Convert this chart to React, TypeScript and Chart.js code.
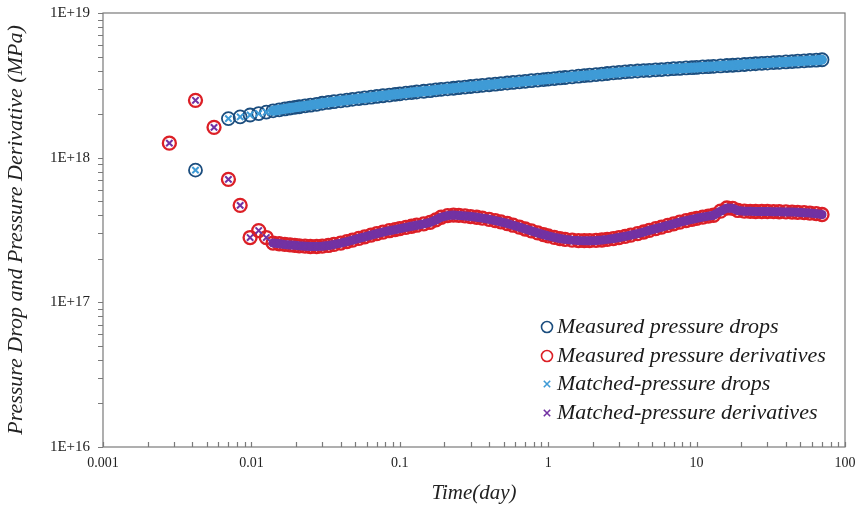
import React, { useEffect, useRef } from 'react';
import { Chart, registerables } from 'chart.js';
Chart.register(...registerables);

// ---- data (time in days, pressure in MPa) ----
const dropTimes = [0.0042, 0.0070, 0.0084, 0.0098, 0.0112, 0.0126, 0.0140, 0.0154, 0.0168, 0.0182, 0.0196, 0.021, 0.023, 0.025, 0.0275, 0.030, 0.033, 0.036, 0.040, 0.044, 0.048, 0.053, 0.058, 0.064, 0.070, 0.077, 0.085, 0.093, 0.10, 0.11, 0.12, 0.13, 0.145, 0.16, 0.175, 0.19, 0.21, 0.23, 0.25, 0.275, 0.30, 0.33, 0.36, 0.40, 0.44, 0.48, 0.53, 0.58, 0.64, 0.70, 0.77, 0.85, 0.93, 1.0, 1.1, 1.2, 1.3, 1.45, 1.6, 1.75, 1.9, 2.1, 2.3, 2.5, 2.75, 3.0, 3.3, 3.6, 4.0, 4.4, 4.8, 5.3, 5.8, 6.4, 7.0, 7.7, 8.5, 9.3, 10, 11, 12, 13, 14.5, 16, 17.5, 19, 21, 23, 25, 27.5, 30, 33, 36, 40, 44, 48, 53, 58, 64, 70];
// pressure drops, in units of 1E+18 MPa
const dropValuesE18 = [0.82, 1.862, 1.914, 1.972, 2.018, 2.065, 2.109, 2.143, 2.173, 2.203, 2.228, 2.249, 2.280, 2.307, 2.339, 2.377, 2.410, 2.438, 2.472, 2.500, 2.529, 2.559, 2.588, 2.618, 2.649, 2.679, 2.710, 2.742, 2.761, 2.793, 2.818, 2.844, 2.877, 2.904, 2.938, 2.965, 2.992, 3.020, 3.048, 3.076, 3.105, 3.133, 3.162, 3.192, 3.221, 3.251, 3.281, 3.311, 3.342, 3.373, 3.404, 3.436, 3.467, 3.491, 3.524, 3.556, 3.581, 3.622, 3.656, 3.690, 3.715, 3.750, 3.784, 3.819, 3.855, 3.882, 3.918, 3.945, 3.972, 3.999, 4.018, 4.046, 4.064, 4.093, 4.121, 4.140, 4.169, 4.188, 4.207, 4.236, 4.256, 4.276, 4.305, 4.335, 4.355, 4.375, 4.406, 4.436, 4.457, 4.487, 4.508, 4.539, 4.560, 4.592, 4.613, 4.645, 4.667, 4.699, 4.721, 4.753];

const derivTimes = [0.0028, 0.0042, 0.0056, 0.0070, 0.0084, 0.0098, 0.0112, 0.0126, 0.0140, 0.0154, 0.0168, 0.0182, 0.0196, 0.021, 0.023, 0.025, 0.0275, 0.030, 0.033, 0.036, 0.040, 0.044, 0.048, 0.053, 0.058, 0.064, 0.070, 0.077, 0.085, 0.093, 0.10, 0.11, 0.12, 0.13, 0.145, 0.16, 0.175, 0.19, 0.21, 0.23, 0.25, 0.275, 0.30, 0.33, 0.36, 0.40, 0.44, 0.48, 0.53, 0.58, 0.64, 0.70, 0.77, 0.85, 0.93, 1.0, 1.1, 1.2, 1.3, 1.45, 1.6, 1.75, 1.9, 2.1, 2.3, 2.5, 2.75, 3.0, 3.3, 3.6, 4.0, 4.4, 4.8, 5.3, 5.8, 6.4, 7.0, 7.7, 8.5, 9.3, 10, 11, 12, 13, 14.5, 16, 17.5, 19, 21, 23, 25, 27.5, 30, 33, 36, 40, 44, 48, 53, 58, 64, 70];
// pressure derivatives, in units of 1E+17 MPa
const derivValuesE17 = [12.6, 24.9, 16.2, 7.08, 4.68, 2.805, 3.133, 2.805, 2.570, 2.541, 2.512, 2.495, 2.477, 2.460, 2.443, 2.432, 2.432, 2.443, 2.472, 2.512, 2.570, 2.630, 2.692, 2.767, 2.838, 2.917, 2.985, 3.055, 3.126, 3.184, 3.236, 3.296, 3.357, 3.412, 3.491, 3.573, 3.715, 3.873, 3.981, 4.009, 3.990, 3.954, 3.917, 3.873, 3.819, 3.750, 3.673, 3.597, 3.508, 3.412, 3.311, 3.214, 3.119, 3.020, 2.938, 2.877, 2.812, 2.761, 2.723, 2.692, 2.673, 2.667, 2.667, 2.679, 2.698, 2.723, 2.761, 2.805, 2.858, 2.911, 2.985, 3.062, 3.141, 3.228, 3.311, 3.404, 3.491, 3.581, 3.673, 3.750, 3.811, 3.882, 3.945, 3.999, 4.266, 4.487, 4.467, 4.315, 4.266, 4.256, 4.246, 4.246, 4.246, 4.236, 4.227, 4.217, 4.207, 4.188, 4.169, 4.140, 4.102, 4.046];

// matched model reproduces the measured values
const matchedDropValuesE18 = dropValuesE18;
const matchedDerivValuesE17 = derivValuesE17;

const seriesLabels = [
  'Measured pressure drops',
  'Measured pressure derivatives',
  'Matched-pressure drops',
  'Matched-pressure derivatives',
];

const xMajors = [0.001, 0.01, 0.1, 1, 10, 100];
const xTickLabels = ['0.001', '0.01', '0.1', '1', '10', '100'];
const yMajors = [1e16, 1e17, 1e18, 1e19];
const yTickLabels = ['1E+16', '1E+17', '1E+18', '1E+19'];

const xTitle = 'Time(day)';
const yTitle = 'Pressure Drop and Pressure Derivative (MPa)';

// ---- styles ----
const C_DROP = '#1b4d7e';
const C_DERIV = '#dc1f26';
const C_MDROP = '#3f9bd6';
const C_MDERIV = '#7232a3';
const AXIS_C = '#7a7a7a';
const FONT = '"Liberation Serif", "Times New Roman", serif';

function logTicks(min: number, max: number) {
  const out: { value: number }[] = [];
  const k0 = Math.round(Math.log10(min));
  const k1 = Math.round(Math.log10(max));
  for (let k = k0; k < k1; k++) {
    for (let m = 1; m <= 9; m++) out.push({ value: m * Math.pow(10, k) });
  }
  out.push({ value: max });
  return out;
}

function labelFor(v: number, majors: number[], labels: string[]) {
  const i = majors.findIndex((m) => Math.abs(m - v) / m < 1e-6);
  return i >= 0 ? labels[i] : '';
}

const axesPlugin = {
  id: 'axesBox',
  beforeDatasetsDraw(chart: any) {
    const { ctx, chartArea: a, scales } = chart;
    ctx.save();
    ctx.strokeStyle = AXIS_C;
    ctx.lineWidth = 1.2;
    ctx.strokeRect(a.left, a.top, a.right - a.left, a.bottom - a.top);
    ctx.beginPath();
    scales.x.ticks.forEach((t: any) => {
      const px = Math.round(scales.x.getPixelForValue(t.value)) + 0.5;
      ctx.moveTo(px, a.bottom);
      ctx.lineTo(px, a.bottom - 5);
    });
    scales.y.ticks.forEach((t: any) => {
      const py = Math.round(scales.y.getPixelForValue(t.value)) + 0.5;
      ctx.moveTo(a.left, py);
      ctx.lineTo(a.left - 5, py);
    });
    ctx.stroke();
    ctx.restore();
  },
};

const legendPlugin = {
  id: 'insideLegend',
  afterDraw(chart: any) {
    const { ctx } = chart;
    const mx = 547;
    const tx = 557;
    const rows = [327, 356, 384, 413];
    const kinds = [
      { type: 'circle', color: C_DROP },
      { type: 'circle', color: C_DERIV },
      { type: 'cross', color: C_MDROP },
      { type: 'cross', color: C_MDERIV },
    ];
    ctx.save();
    kinds.forEach((k, i) => {
      const y = rows[i];
      ctx.strokeStyle = k.color;
      ctx.lineWidth = 1.6;
      ctx.beginPath();
      if (k.type === 'circle') {
        ctx.arc(mx, y, 5.5, 0, Math.PI * 2);
      } else {
        const s = 3.2;
        ctx.moveTo(mx - s, y - s);
        ctx.lineTo(mx + s, y + s);
        ctx.moveTo(mx + s, y - s);
        ctx.lineTo(mx - s, y + s);
      }
      ctx.stroke();
      ctx.fillStyle = '#1a1a1a';
      ctx.font = `italic 22px ${FONT}`;
      ctx.textBaseline = 'middle';
      ctx.textAlign = 'left';
      ctx.fillText(seriesLabels[i], tx, y);
    });
    ctx.restore();
  },
};

export default function App() {
  const ref = useRef<HTMLCanvasElement | null>(null);

  useEffect(() => {
    if (!ref.current) return;
    const dropPts = dropTimes.map((t, i) => ({ x: t, y: dropValuesE18[i] * 1e18 }));
    const derivPts = derivTimes.map((t, i) => ({ x: t, y: derivValuesE17[i] * 1e17 }));
    const mDropPts = dropTimes.map((t, i) => ({ x: t, y: matchedDropValuesE18[i] * 1e18 }));
    const mDerivPts = derivTimes.map((t, i) => ({ x: t, y: matchedDerivValuesE17[i] * 1e17 }));
    const lineStart = 0.0135;

    const circleDs = (label: string, data: any[], color: string, bw: number) => ({
      label,
      data,
      showLine: false,
      pointStyle: 'circle',
      pointRadius: 6.5,
      pointBorderWidth: bw,
      pointBorderColor: color,
      pointBackgroundColor: 'rgba(0,0,0,0)',
      borderColor: color,
      backgroundColor: 'rgba(0,0,0,0)',
      order: 2,
    });
    const matchDs = (label: string, data: any[], color: string, lw: number) => ({
      label,
      data,
      showLine: true,
      borderColor: color,
      borderWidth: lw,
      borderCapStyle: 'round',
      borderJoinStyle: 'round',
      segment: {
        borderColor: (c: any) => (c.p0.parsed.x >= lineStart ? color : 'rgba(0,0,0,0)'),
      },
      pointStyle: 'crossRot',
      pointRadius: 4.5,
      pointBorderWidth: 2,
      pointBorderColor: color,
      pointBackgroundColor: color,
      backgroundColor: color,
      order: 1,
    });

    const chart = new Chart(ref.current, {
      type: 'scatter',
      data: {
        datasets: [
          circleDs(seriesLabels[0], dropPts, C_DROP, 1.8),
          circleDs(seriesLabels[1], derivPts, C_DERIV, 2.3),
          matchDs(seriesLabels[2], mDropPts, C_MDROP, 10),
          matchDs(seriesLabels[3], mDerivPts, C_MDERIV, 9),
        ] as any,
      },
      options: {
        animation: false,
        responsive: true,
        maintainAspectRatio: false,
        layout: { padding: { left: 0, right: 15, top: 13, bottom: 0 } },
        plugins: { legend: { display: false }, tooltip: { enabled: false } },
        scales: {
          x: {
            type: 'logarithmic',
            position: 'bottom',
            min: 0.001,
            max: 100,
            afterBuildTicks: (s: any) => { s.ticks = logTicks(0.001, 100); },
            afterFit: (s: any) => { s.height = 62; s.paddingLeft = 0; s.paddingRight = 0; },
            grid: { display: false, drawTicks: false },
            border: { display: false },
            ticks: {
              autoSkip: false,
              maxRotation: 0,
              padding: 8,
              color: '#222',
              font: { family: FONT, size: 14 },
              callback: (v: any) => labelFor(Number(v), xMajors, xTickLabels),
            },
            title: {
              display: true,
              text: xTitle,
              color: '#222',
              font: { family: FONT, size: 21, style: 'italic' },
              padding: { top: 0, bottom: 3 },
            },
          },
          y: {
            type: 'logarithmic',
            min: 1e16,
            max: 1e19,
            afterBuildTicks: (s: any) => { s.ticks = logTicks(1e16, 1e19); },
            afterFit: (s: any) => { s.width = 103; s.paddingTop = 0; s.paddingBottom = 0; },
            grid: { display: false, drawTicks: false },
            border: { display: false },
            ticks: {
              autoSkip: false,
              padding: 13,
              color: '#222',
              font: { family: FONT, size: 15 },
              callback: (v: any) => labelFor(Number(v), yMajors, yTickLabels),
            },
            title: {
              display: true,
              text: yTitle,
              color: '#222',
              font: { family: FONT, size: 22, style: 'italic' },
              padding: { top: 3, bottom: 0 },
            },
          },
        },
      } as any,
      plugins: [axesPlugin, legendPlugin],
    });
    return () => chart.destroy();
  }, []);

  return (
    <div style={{ position: 'fixed', left: 0, top: 0, width: 860, height: 509, background: '#fff' }}>
      <canvas ref={ref} />
    </div>
  );
}
